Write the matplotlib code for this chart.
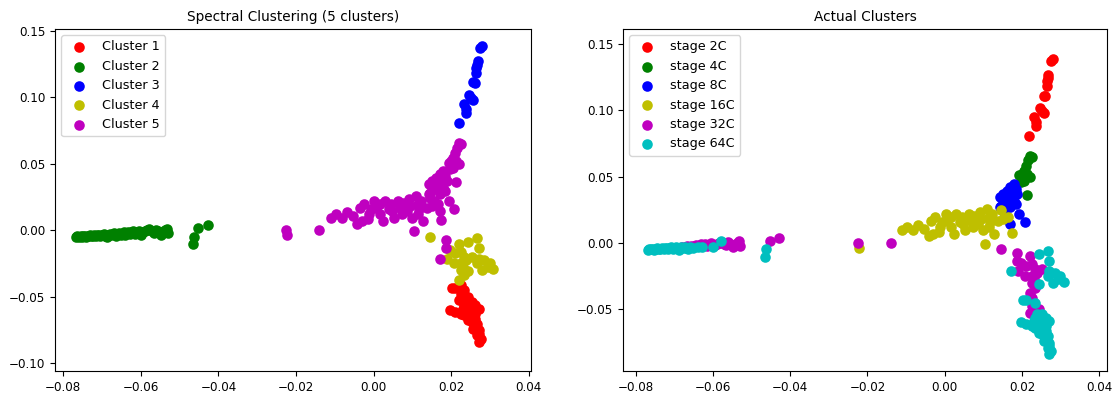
import matplotlib
matplotlib.use("Agg")
import matplotlib.pyplot as plt
import numpy as np

# ── Data: one list per spectral cluster; stage = actual stage of each point ──

# Cluster 1 (bottom of the lower arm)
c1_x = [0.0202, 0.0211, 0.0225, 0.0234, 0.0225, 0.0244, 0.0239, 0.0253, 0.0262, 0.0271,
        0.0244, 0.0198, 0.0211, 0.0225, 0.0234, 0.0248, 0.0262, 0.0253, 0.0267, 0.0257,
        0.0271, 0.0267, 0.0276, 0.0271, 0.0234, 0.0244, 0.0221, 0.0262, 0.0230, 0.0271]
c1_y = [-0.0432, -0.0432, -0.0415, -0.0452, -0.0477, -0.0503, -0.0540, -0.0540, -0.0565, -0.0590,
        -0.0603, -0.0598, -0.0616, -0.0628, -0.0641, -0.0653, -0.0666, -0.0691, -0.0704, -0.0741,
        -0.0754, -0.0791, -0.0816, -0.0842, -0.0565, -0.0678, -0.0528, -0.0628, -0.0590, -0.0779]
c1_stage = [64, 64, 32, 64, 32, 32, 64, 64, 64, 64,
            64, 64, 64, 64, 64, 64, 64, 64, 64, 64,
            64, 64, 64, 64, 64, 64, 32, 64, 64, 64]

# Cluster 2 (long left arm)
c2_x = [-0.0768, -0.0765, -0.0760, -0.0755, -0.0752, -0.0748, -0.0744, -0.0740, -0.0736, -0.0732,
        -0.0728, -0.0724, -0.0720, -0.0716, -0.0712, -0.0708, -0.0704, -0.0700, -0.0696, -0.0692,
        -0.0688, -0.0684, -0.0680, -0.0676, -0.0672, -0.0668, -0.0664, -0.0660, -0.0656, -0.0652,
        -0.0648, -0.0644, -0.0640, -0.0636, -0.0632, -0.0628, -0.0624, -0.0620, -0.0615, -0.0610,
        -0.0605, -0.0600, -0.0595, -0.0590, -0.0585, -0.0578, -0.0572, -0.0565, -0.0560, -0.0555,
        -0.0548, -0.0545, -0.0538, -0.0533, -0.0530,
        -0.0466, -0.0462, -0.0452, -0.0428]
c2_y = [-0.0052, -0.0045, -0.0050, -0.0044, -0.0052, -0.0047, -0.0041, -0.0050, -0.0044, -0.0038,
        -0.0048, -0.0042, -0.0036, -0.0046, -0.0040, -0.0034, -0.0044, -0.0038, -0.0030, -0.0042,
        -0.0055, -0.0035, -0.0028, -0.0040, -0.0032, -0.0024, -0.0048, -0.0030, -0.0022, -0.0038,
        -0.0026, -0.0018, -0.0034, -0.0022, -0.0012, -0.0030, -0.0018, -0.0008, -0.0026, -0.0014,
        -0.0004, -0.0034, -0.0016, -0.0006, 0.0002, 0.0012, -0.0010, -0.0020, 0.0004, -0.0008,
        -0.0034, -0.0016, 0.0002, 0.0010, -0.0022,
        -0.0106, -0.0050, 0.0013, 0.0038]
c2_stage = [64, 64, 64, 64, 64, 64, 64, 64, 64, 64,
            64, 64, 64, 64, 64, 64, 64, 64, 64, 32,
            64, 64, 32, 64, 64, 32, 64, 64, 32, 64,
            32, 32, 64, 32, 32, 64, 32, 32, 32, 32,
            32, 64, 32, 32, 32, 64, 32, 32, 32, 32,
            32, 32, 32, 32, 32,
            64, 64, 32, 32]

# Cluster 3 (top arm)
c3_x = [0.0280, 0.0274, 0.0268, 0.0267, 0.0265, 0.0265, 0.0260, 0.0257, 0.0246, 0.0251,
        0.0257, 0.0232, 0.0237, 0.0237, 0.0219]
c3_y = [0.1387, 0.1369, 0.1269, 0.1244, 0.1219, 0.1181, 0.1106, 0.1111, 0.1018, 0.0992,
        0.0980, 0.0947, 0.0909, 0.0879, 0.0809]
c3_stage = [2] * 15

# Cluster 4 (top of the lower arm)
c4_x = [0.0145, 0.0221, 0.0244, 0.0267, 0.0271, 0.0198, 0.0211, 0.0225, 0.0234, 0.0189,
        0.0207, 0.0225, 0.0239, 0.0253, 0.0271, 0.0285, 0.0294, 0.0308, 0.0280, 0.0225,
        0.0234, 0.0221, 0.0230, 0.0267, 0.0299, 0.0244]
c4_y = [-0.0050, -0.0101, -0.0088, -0.0063, -0.0138, -0.0151, -0.0176, -0.0163, -0.0201, -0.0214,
        -0.0251, -0.0251, -0.0226, -0.0201, -0.0214, -0.0226, -0.0276, -0.0296, -0.0302, -0.0302,
        -0.0339, -0.0377, -0.0276, -0.0251, -0.0251, -0.0310]
c4_stage = [32, 32, 64, 64, 64, 32, 32, 32, 32, 32,
            32, 32, 32, 32, 64, 64, 64, 64, 64, 32,
            32, 32, 32, 64, 64, 64]

# Cluster 5 (bend joining the arms)
c5_x = [0.0221, 0.0226, 0.0216, 0.0210, 0.0204, 0.0200, 0.0212, 0.0193, 0.0205, 0.0221,
        0.0198, 0.0212,
        0.0179, 0.0170, 0.0160, 0.0184, 0.0151, 0.0174, 0.0188, 0.0142, 0.0165, 0.0156,
        0.0179, 0.0146, 0.0170, 0.0184, 0.0193, 0.0207, 0.0170, 0.0156, 0.0142,
        -0.0110, -0.0098, -0.0082, -0.0068, -0.0054, -0.0042, -0.0035, -0.0026, -0.0012, -0.0014,
        0.0002, 0.0007, 0.0016, 0.0025, 0.0030, 0.0039, 0.0044, 0.0053, 0.0062, 0.0067,
        0.0076, 0.0072, 0.0086, 0.0090, 0.0095, 0.0100, 0.0104, 0.0109, 0.0114, 0.0118,
        0.0123, 0.0128, 0.0137, 0.0146, 0.0151, 0.0165, 0.0174, -0.0031, -0.0007, 0.0016,
        0.0048, 0.0081, 0.0114, -0.0222,
        -0.0225, -0.0140, 0.0187, 0.0187, 0.0171]
c5_y = [0.0658, 0.0646, 0.0621, 0.0583, 0.0545, 0.0520, 0.0520, 0.0508, 0.0470, 0.0500,
        0.0457, 0.0362,
        0.0445, 0.0420, 0.0394, 0.0407, 0.0369, 0.0369, 0.0369, 0.0344, 0.0332, 0.0307,
        0.0319, 0.0281, 0.0269, 0.0294, 0.0219, 0.0156, 0.0143, 0.0219, 0.0269,
        0.0093, 0.0123, 0.0093, 0.0138, 0.0106, 0.0048, 0.0163, 0.0193, 0.0118, 0.0080,
        0.0218, 0.0163, 0.0193, 0.0068, 0.0218, 0.0156, 0.0198, 0.0093, 0.0218, 0.0168,
        0.0206, 0.0118, 0.0143, 0.0231, 0.0181, 0.0093, -0.0008, 0.0256, 0.0193, 0.0156,
        0.0219, 0.0068, 0.0168, 0.0244, 0.0181, 0.0193, 0.0075, 0.0068, 0.0156, 0.0118,
        0.0143, 0.0168, 0.0118, -0.0040,
        0.0000, 0.0000, -0.0075, -0.0138, -0.0214]
c5_stage = [4] * 12 + [8] * 19 + [16] * 44 + [32, 32, 32, 32, 64]

cluster_ids = [1, 2, 3, 4, 5]
cluster_colors = ["r", "g", "b", "y", "m"]
stages = [2, 4, 8, 16, 32, 64]
stage_labels = ["stage 2C", "stage 4C", "stage 8C", "stage 16C", "stage 32C", "stage 64C"]
stage_colors = ["r", "g", "b", "y", "m", "c"]

xs = [c1_x, c2_x, c3_x, c4_x, c5_x]
ys = [c1_y, c2_y, c3_y, c4_y, c5_y]
sts = [c1_stage, c2_stage, c3_stage, c4_stage, c5_stage]

all_x = np.concatenate([np.array(v) for v in xs])
all_y = np.concatenate([np.array(v) for v in ys])
all_st = np.concatenate([np.array(v) for v in sts])

# ── Plot ─────────────────────────────────────────────────────────────────────

FS = 8.6
LEG_FS = 9.2
MS = 58

fig = plt.figure(figsize=(11.14, 3.94), dpi=100)
ax1 = fig.add_axes([0.0494, 0.0584, 0.4274, 0.868])
ax2 = fig.add_axes([0.5592, 0.0584, 0.4345, 0.868])

for cid, col, cx, cy in zip(cluster_ids, cluster_colors, xs, ys):
    ax1.scatter(cx, cy, s=MS, c=col, linewidths=0, label=f"Cluster {cid}")
ax1.set_title("Spectral Clustering (5 clusters)", fontsize=9.8)
ax1.set_xlim(-0.0821, 0.0406)
ax1.set_ylim(-0.106, 0.1513)
ax1.set_xticks(np.arange(-0.08, 0.041, 0.02))
ax1.set_yticks(np.arange(-0.10, 0.151, 0.05))
ax1.legend(loc="upper left", fontsize=LEG_FS)

for st, lab, col in zip(stages, stage_labels, stage_colors):
    m = all_st == st
    ax2.scatter(all_x[m], all_y[m], s=MS, c=col, linewidths=0, label=lab)
ax2.set_title("Actual Clusters", fontsize=9.8)
ax2.set_xlim(-0.0833, 0.042)
ax2.set_ylim(-0.0967, 0.1613)
ax2.set_xticks(np.arange(-0.08, 0.041, 0.02))
ax2.set_yticks(np.arange(-0.05, 0.151, 0.05))
ax2.legend(loc="upper left", fontsize=LEG_FS)

for ax in (ax1, ax2):
    ax.tick_params(labelsize=FS)

fig.savefig("out.png", dpi=100)
